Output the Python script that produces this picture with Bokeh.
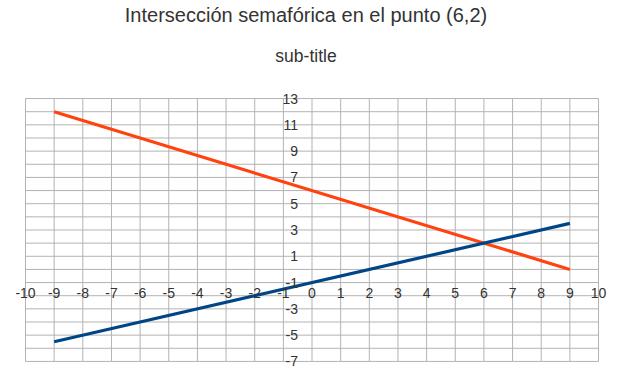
from bokeh.plotting import figure
from bokeh.models import FixedTicker, LinearAxis, Title, Range1d, CustomJSTickFormatter
from bokeh.embed import file_html
from bokeh.resources import INLINE

# Data
red_x = [-9, 9]
red_y = [12, 0]
blue_x = [-9, 9]
blue_y = [-5.5, 3.5]
x_ticks = list(range(-10, 11))
y_ticks = list(range(-7, 14, 2))
y_grid = list(range(-7, 14))

FONT = "Liberation Sans"
GRID = "#b3b3b3"
TXT = "#333333"

p = figure(width=611, height=381, output_backend="svg", toolbar_location=None,
           x_range=Range1d(-10.8726, 10.453), y_range=Range1d(-8.527, 14.298),
           x_axis_type=None, y_axis_type=None,
           min_border_left=0, min_border_right=0, min_border_bottom=0, min_border_top=0)
p.outline_line_color = None

p.add_layout(Title(text="sub-title", align="center", text_font=FONT, standoff=28,
                   vertical_align="top",
                   text_font_size="17.5px", text_font_style="normal", text_color=TXT), "above")
p.title = Title(text="Intersección semafórica en el punto (6,2)", align="center", standoff=7,
                vertical_align="top",
                text_font=FONT, text_font_size="20px", text_font_style="normal", text_color=TXT)

fmt = CustomJSTickFormatter(code="return tick.toString();")
xaxis = LinearAxis(ticker=FixedTicker(ticks=x_ticks), fixed_location=0, formatter=fmt,
                   axis_line_color=None, major_tick_line_color=None, minor_tick_line_color=None,
                   major_label_text_font=FONT, major_label_text_font_size="14px",
                   major_label_text_color=TXT, major_label_standoff=13)
yaxis = LinearAxis(ticker=FixedTicker(ticks=y_ticks), fixed_location=0, formatter=fmt,
                   axis_line_color=None, major_tick_line_color=None, minor_tick_line_color=None,
                   major_label_text_font=FONT, major_label_text_font_size="14px",
                   major_label_text_color=TXT, major_label_standoff=8)
p.add_layout(xaxis, "below")
p.add_layout(yaxis, "left")

# grid lines limited to the chart area
x0, x1 = x_ticks[0], x_ticks[-1]
y0, y1 = y_grid[0], y_grid[-1]
p.segment(x0=x_ticks, y0=[y0] * len(x_ticks), x1=x_ticks, y1=[y1] * len(x_ticks),
          line_color=GRID, line_width=1)
p.segment(x0=[x0] * len(y_grid), y0=y_grid, x1=[x1] * len(y_grid), y1=y_grid,
          line_color=GRID, line_width=1)

p.line(red_x, red_y, line_color="#ff420e", line_width=3.2)
p.line(blue_x, blue_y, line_color="#004586", line_width=3.2)

open("out.html", "w").write(file_html(p, INLINE))
